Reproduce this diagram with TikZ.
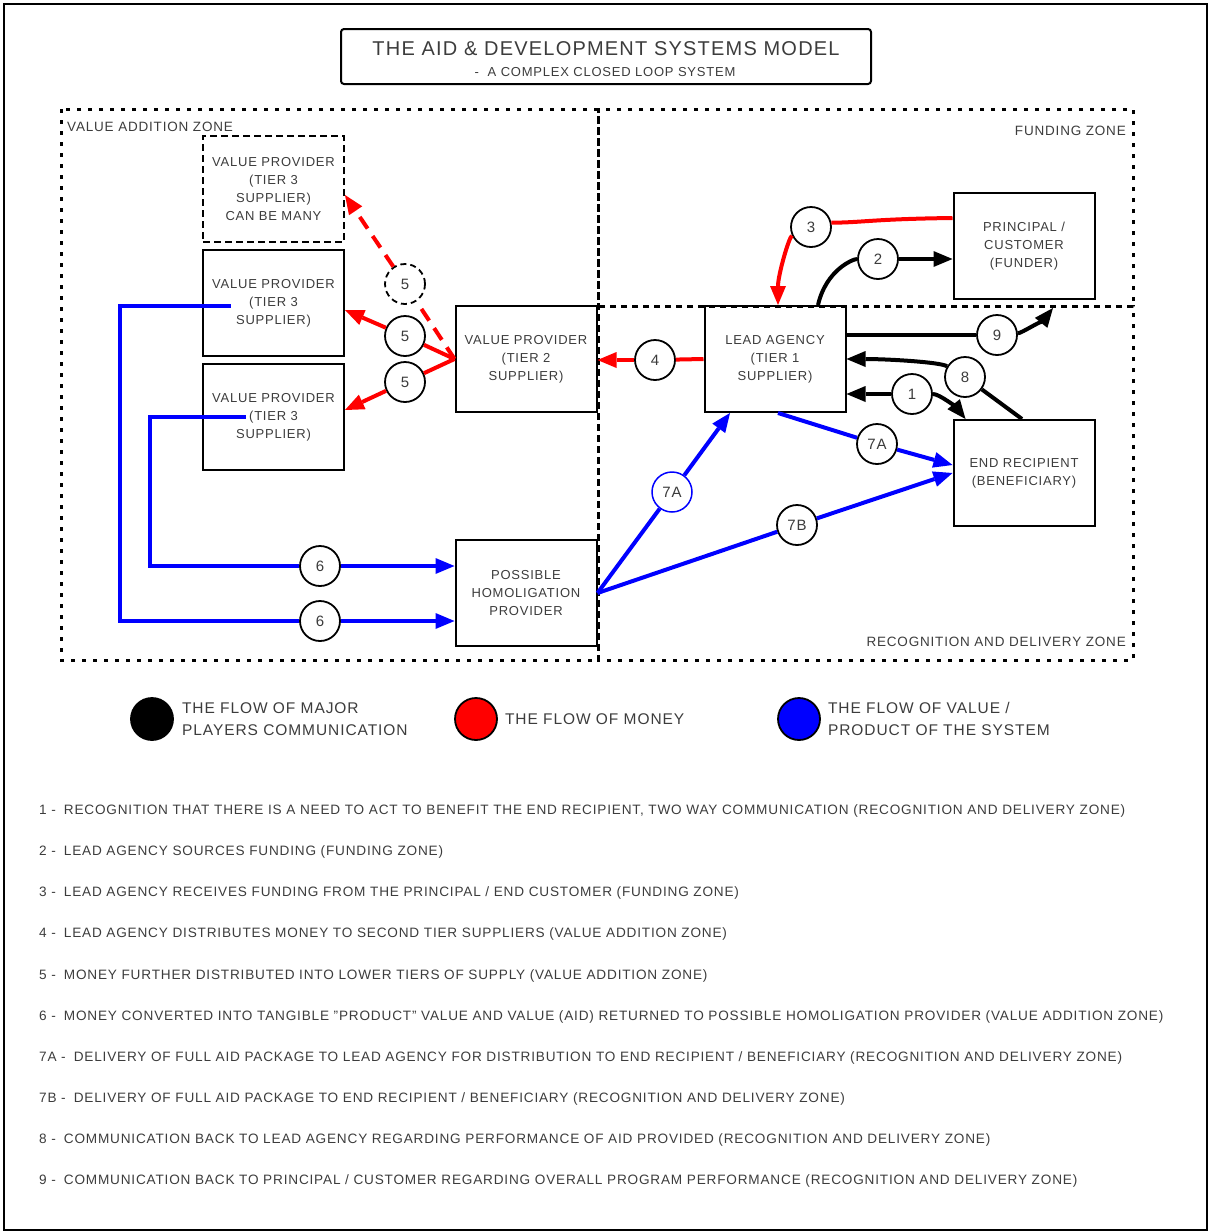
\documentclass[tikz,border=0pt]{standalone}
\usepackage{fontspec}
\setmainfont{Liberation Sans}[LetterSpace=6]
\usetikzlibrary{arrows.meta,positioning}
\definecolor{txtgray}{HTML}{3C3C3C}
\definecolor{moneyred}{HTML}{FF0000}
\definecolor{valueblue}{HTML}{0000FF}
\newcommand{\noteline}[2]{#1 -\hspace{8pt}#2}

\begin{document}
\begin{tikzpicture}[
    x=1pt, y=-1pt,
    font=\fontsize{13}{18}\selectfont,
    every node/.style={text=txtgray},
    supbox/.style={draw=black, line width=2pt, minimum width=141pt, minimum height=106pt,
      align=center, inner sep=0pt},
    numcirc/.style={circle, draw=black, line width=1.8pt, fill=white, minimum size=40pt,
      inner sep=0pt, font=\fontsize{15}{15}\selectfont},
    zone/.style={line width=3pt, dash pattern=on 4pt off 7pt},
    zonelbl/.style={font=\fontsize{13.5}{16}\selectfont, inner sep=0pt},
    arrowhd/.style={-{Triangle[length=19pt,width=16pt,line width=0pt]}},
    money/.style={draw=moneyred, line width=4pt},
    comm/.style={draw=black, line width=4pt},
    valflow/.style={draw=valueblue, line width=4pt},
    legdot/.style={circle, draw=black, line width=1.8pt, minimum width=40pt,
      minimum height=42pt, inner sep=0pt},
    legtxt/.style={font=\fontsize{15.5}{22}\selectfont, align=left, inner sep=0pt},
    note/.style={anchor=west, font=\fontsize{13.6}{16}\selectfont, inner sep=0pt}
  ]
    \useasboundingbox (0,0) rectangle (1208,1232);
    \draw[line width=1.5pt] (4,4) rectangle (1207,1230);
    % titre
    \node[draw=black, line width=2pt, rounded corners=3pt, minimum width=530pt,
          minimum height=55pt] (title) at (606,56.5) {};
    \node[font=\fontsize{20}{24}\selectfont] (titletxt) at (606,49)
      {THE AID \& DEVELOPMENT SYSTEMS MODEL};
    \node[font=\fontsize{13}{16}\selectfont] (subtitle) at (605,72)
      {-\ \ A COMPLEX CLOSED LOOP SYSTEM};
    % zones
    \draw[zone] (61,109) rectangle (598,660);
    \draw[zone] (598,109) rectangle (1133,306);
    \draw[zone] (598,306) rectangle (1133,660);
    \node[zonelbl, anchor=base west] (zvalue) at (67,131) {VALUE ADDITION ZONE};
    \node[zonelbl, anchor=base east] (zfund) at (1126,135) {FUNDING ZONE};
    \node[zonelbl, anchor=base east] (zrecog) at (1126,646) {RECOGNITION AND DELIVERY ZONE};
    % acteurs
    \node[supbox, dash pattern=on 7pt off 4pt] (vp3d) at (273.5,189)
      {VALUE PROVIDER\\(TIER 3\\SUPPLIER)\\CAN BE MANY};
    \node[supbox] (vp3a) at (273.5,303) {VALUE PROVIDER\\(TIER 3\\SUPPLIER)};
    \node[supbox] (vp3b) at (273.5,417) {VALUE PROVIDER\\(TIER 3\\SUPPLIER)};
    \node[supbox] (vp2) at (526,359) {VALUE PROVIDER\\(TIER 2\\SUPPLIER)};
    \node[supbox] (hom) at (526,593) {POSSIBLE\\HOMOLIGATION\\PROVIDER};
    \node[supbox] (lead) at (775,359) {LEAD AGENCY\\(TIER 1\\SUPPLIER)};
    \node[supbox] (principal) at (1024,246) {PRINCIPAL /\\CUSTOMER\\(FUNDER)};
    \node[supbox] (endrec) at (1024,473) {END RECIPIENT\\(BENEFICIARY)};
    % numeros
    \node[numcirc] (n3) at (811,227) {3};
    \node[numcirc] (n2) at (878,259) {2};
    \node[numcirc] (n9) at (997,335) {9};
    \node[numcirc] (n8) at (965,377) {8};
    \node[numcirc] (n1) at (912,394) {1};
    \node[numcirc] (n4) at (655,360) {4};
    \node[numcirc, dash pattern=on 6pt off 4pt] (n5d) at (405,284) {5};
    \node[numcirc] (n5a) at (405,336) {5};
    \node[numcirc] (n5b) at (405,382) {5};
    \node[numcirc] (n6a) at (320,566) {6};
    \node[numcirc] (n6b) at (320,621) {6};
    \node[numcirc, draw=valueblue, line width=1.5pt] (n7al) at (672,492) {7A};
    \node[numcirc] (n7ar) at (877,444) {7A};
    \node[numcirc] (n7b) at (797,525) {7B};
    \coordinate (t9) at (1053,308);
    % argent
    \draw[money] ([yshift=28pt]principal.west) .. controls +(-80,1) and +(30,0) .. (n3.12);
    \draw[money, arrowhd] (n3) .. controls +(-22,10) and +(0,-30) .. ([xshift=3pt]lead.north);
    \draw[money] (lead.west) -- (n4);
    \draw[money, arrowhd] (n4) -- (vp2.east |- n4);
    \draw[money] (vp2.west) -- (n5a);
    \draw[money, arrowhd] (n5a) -- ([yshift=-7pt]vp3a.east);
    \draw[money] (vp2.west) -- (n5b);
    \draw[money, arrowhd] (n5b) -- ([yshift=7pt]vp3b.east);
    \draw[money, dash pattern=on 14pt off 9pt] (vp2.west) -- (n5d);
    \draw[money, arrowhd, dash pattern=on 14pt off 9pt] (n5d) -- ([yshift=-6pt]vp3d.east);
    % communication
    \draw[comm] ([xshift=43pt]lead.north) .. controls +(8,-35) and +(-25,0) .. (n2);
    \draw[comm, arrowhd] (n2) -- (n2 -| principal.west);
    \draw[comm] (lead.east |- n9) -- (n9);
    \draw[comm, arrowhd] (n9) .. controls +(25,-2) and +(-8,10) .. (t9);
    \draw[comm] ([xshift=-2pt]endrec.north) -- (n8);
    \draw[comm, arrowhd] (n8) .. controls +(-25,-15) and +(40,0) .. (lead.east);
    \draw[comm, arrowhd] (n1) -- (lead.east |- n1);
    \draw[comm, arrowhd] (n1) .. controls +(28,0) and +(-8,-10) .. ([xshift=13pt]endrec.north west);
    % valeur
    \draw[valflow] ([xshift=-28pt]vp3b.center) -- ++(-96,0) |- (n6a);
    \draw[valflow, arrowhd] (n6a) -- (n6a -| hom.west);
    \draw[valflow] ([xshift=-43pt,yshift=-3pt]vp3a.center) -- ++(-111,0) |- (n6b);
    \draw[valflow, arrowhd] (n6b) -- (n6b -| hom.west);
    \draw[valflow] (hom.east) -- (n7al);
    \draw[valflow, arrowhd] (n7al) -- ([xshift=-45pt]lead.south);
    \draw[valflow] ([xshift=3pt]lead.south) -- (n7ar);
    \draw[valflow, arrowhd] (n7ar) -- ([yshift=8pt]endrec.west);
    \draw[valflow] (hom.east) -- (n7b);
    \draw[valflow, arrowhd] (n7b) -- (endrec.west);
    % legende
    \node[legdot, fill=black] (legcomm) at (152,719) {};
    \node[legtxt, right=8pt of legcomm] (legcommtxt) {THE FLOW OF MAJOR\\PLAYERS COMMUNICATION};
    \node[legdot, fill=moneyred] (legmoney) at (476,719) {};
    \node[legtxt, right=7pt of legmoney] (legmoneytxt) {THE FLOW OF MONEY};
    \node[legdot, fill=valueblue] (legvalue) at (799,719) {};
    \node[legtxt, right=7pt of legvalue] (legvaluetxt) {THE FLOW OF VALUE /\\PRODUCT OF THE SYSTEM};
    % notes
    \node[note] (note1) at (39,811) {\noteline{1}{RECOGNITION THAT THERE IS A NEED TO ACT TO BENEFIT THE END RECIPIENT, TWO WAY COMMUNICATION (RECOGNITION AND DELIVERY ZONE)}};
    \node[note] (note2) at (39,852) {\noteline{2}{LEAD AGENCY SOURCES FUNDING (FUNDING ZONE)}};
    \node[note] (note3) at (39,893) {\noteline{3}{LEAD AGENCY RECEIVES FUNDING FROM THE PRINCIPAL / END CUSTOMER (FUNDING ZONE)}};
    \node[note] (note4) at (39,934) {\noteline{4}{LEAD AGENCY DISTRIBUTES MONEY TO SECOND TIER SUPPLIERS (VALUE ADDITION ZONE)}};
    \node[note] (note5) at (39,976) {\noteline{5}{MONEY FURTHER DISTRIBUTED INTO LOWER TIERS OF SUPPLY (VALUE ADDITION ZONE)}};
    \node[note] (note6) at (39,1017) {\noteline{6}{MONEY CONVERTED INTO TANGIBLE "PRODUCT" VALUE AND VALUE (AID) RETURNED TO POSSIBLE HOMOLIGATION PROVIDER (VALUE ADDITION ZONE)}};
    \node[note] (note7a) at (39,1058) {\noteline{7A}{DELIVERY OF FULL AID PACKAGE TO LEAD AGENCY FOR DISTRIBUTION TO END RECIPIENT / BENEFICIARY (RECOGNITION AND DELIVERY ZONE)}};
    \node[note] (note7b) at (39,1099) {\noteline{7B}{DELIVERY OF FULL AID PACKAGE TO END RECIPIENT / BENEFICIARY (RECOGNITION AND DELIVERY ZONE)}};
    \node[note] (note8) at (39,1140) {\noteline{8}{COMMUNICATION BACK TO LEAD AGENCY REGARDING PERFORMANCE OF AID PROVIDED (RECOGNITION AND DELIVERY ZONE)}};
    \node[note] (note9) at (39,1181) {\noteline{9}{COMMUNICATION BACK TO PRINCIPAL / CUSTOMER REGARDING OVERALL PROGRAM PERFORMANCE (RECOGNITION AND DELIVERY ZONE)}};
  \end{tikzpicture}
\end{document}
